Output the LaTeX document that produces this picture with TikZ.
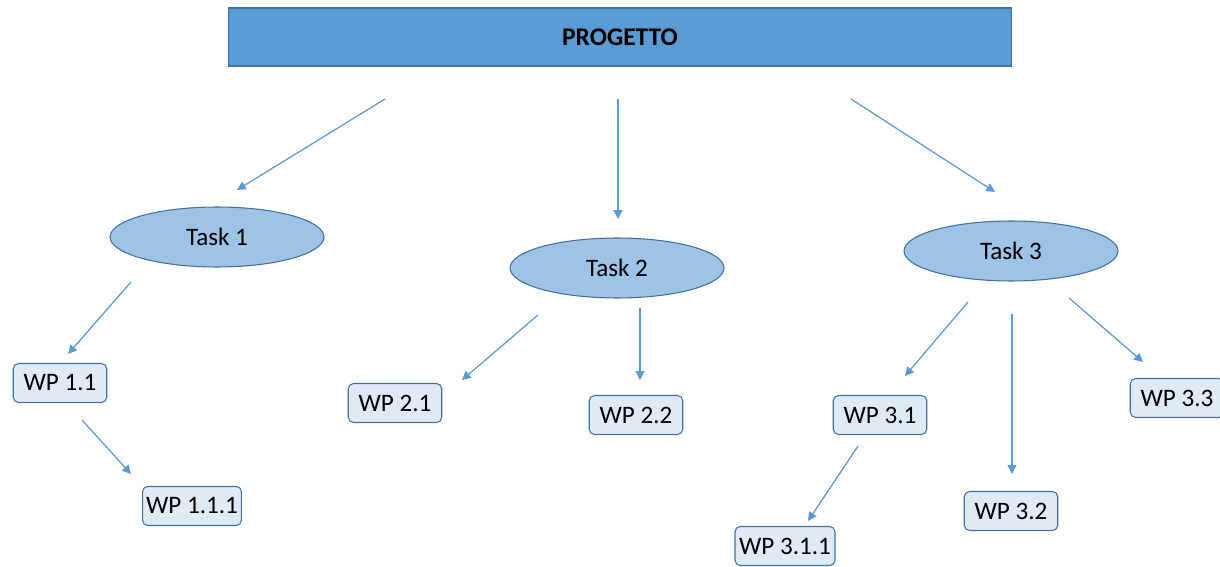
\documentclass[tikz,border=0pt]{standalone}
\usepackage{fontspec}
\setmainfont{Carlito}
\usepackage{xcolor}
\usetikzlibrary{shapes,arrows.meta}

\definecolor{topblue}{HTML}{5B9BD5}
\definecolor{taskblue}{HTML}{9DC3E6}
\definecolor{wpblue}{HTML}{DEEBF7}
\definecolor{edgeblue}{HTML}{41719C}

\begin{document}
\begin{tikzpicture}[
    x=0.02cm, y=-0.02cm,
    topbox/.style={rectangle, draw=edgeblue, fill=topblue, line width=0.6pt, minimum width=15.68cm, minimum height=1.16cm, font=\fontsize{14.5}{17}\selectfont\bfseries},
    taskbox/.style={ellipse, draw=edgeblue, fill=taskblue, line width=0.6pt, minimum width=4.28cm, minimum height=1.2cm, font=\fontsize{14.3}{17}\selectfont},
    wpbox/.style={rectangle, rounded corners=3pt, draw=edgeblue, fill=wpblue, line width=0.6pt, minimum width=1.87cm, minimum height=0.78cm, inner xsep=2pt, font=\fontsize{14.3}{17}\selectfont},
    link/.style={draw=topblue, line width=0.7pt, -{Triangle[width=5pt,length=5pt]}}
]
\useasboundingbox (0,0) rectangle (1220,567);

\node[topbox] (prog) at (620,37) {PROGETTO};

\node[taskbox] (t1) at (217,237) {Task 1};
\node[taskbox] (t2) at (617,268) {Task 2};
\node[taskbox] (t3) at (1011,251) {Task 3};

\node[wpbox] (wp11) at (60,383) {WP 1.1};
\node[wpbox] (wp111) at (192,506) {WP 1.1.1};
\node[wpbox] (wp21) at (395,403) {WP 2.1};
\node[wpbox] (wp22) at (636,415) {WP 2.2};
\node[wpbox] (wp31) at (880,415) {WP 3.1};
\node[wpbox, minimum width=2cm] (wp311) at (785,546) {WP 3.1.1};
\node[wpbox] (wp32) at (1011,511) {WP 3.2};
\node[wpbox] (wp33) at (1177,398) {WP 3.3};

% free ends of the arrows
\coordinate (p1a) at (385,99);   \coordinate (p1b) at (237,190);
\coordinate (p2a) at (618,99);   \coordinate (p2b) at (618,219);
\coordinate (p3a) at (851,99);   \coordinate (p3b) at (995,192);
\coordinate (t1a) at (131,282);  \coordinate (t1b) at (68,354);
\coordinate (w1a) at (82,420);   \coordinate (w1b) at (131,474);
\coordinate (t2a) at (538,315);  \coordinate (t2b) at (462,380);
\coordinate (t2c) at (640,308);  \coordinate (t2d) at (640,380);
\coordinate (t3a) at (968,302);  \coordinate (t3b) at (905,376);
\coordinate (t3c) at (1012,314); \coordinate (t3d) at (1012,474);
\coordinate (t3e) at (1069,298); \coordinate (t3f) at (1143,362);
\coordinate (w3a) at (858,446);  \coordinate (w3b) at (808,521);

\draw[link] (p1a) -- (p1b);
\draw[link] (p2a) -- (p2b);
\draw[link] (p3a) -- (p3b);
\draw[link] (t1a) -- (t1b);
\draw[link] (w1a) -- (w1b);
\draw[link] (t2a) -- (t2b);
\draw[link] (t2c) -- (t2d);
\draw[link] (t3a) -- (t3b);
\draw[link] (t3c) -- (t3d);
\draw[link] (t3e) -- (t3f);
\draw[link] (w3a) -- (w3b);
\end{tikzpicture}
\end{document}
